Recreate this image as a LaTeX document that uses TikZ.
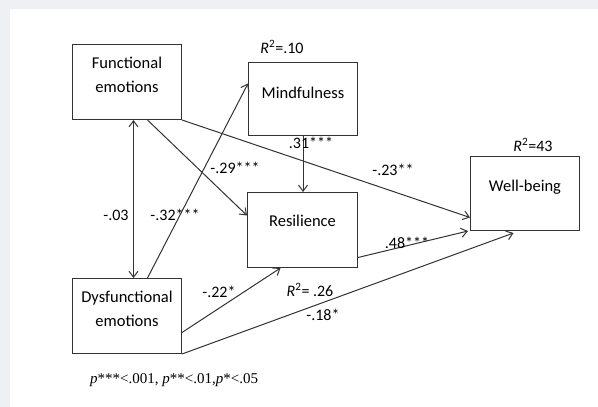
\documentclass[tikz,border=0pt]{standalone}
\usepackage{fontspec}
\setmainfont{Carlito}
\newfontfamily\notefont{Liberation Serif}
\usetikzlibrary{arrows.meta}
\definecolor{pagegrey}{RGB}{238,240,243}

\begin{document}
\begin{tikzpicture}[x=1pt,y=-1pt,
		box/.style={draw=black!80, line width=1pt, anchor=north west, minimum width=109pt, inner xsep=0pt, inner ysep=0pt, align=center, font=\fontsize{16.5}{24}\selectfont},
		arr/.style={draw=black!80, line width=1pt, -{Straight Barb[length=6pt,width=9pt]}},
		lbl/.style={font=\fontsize{16}{18}\selectfont, inner sep=0pt}]
		%%%%% START %%%%%
		\useasboundingbox (0,0) rectangle (598,407);
		\fill[pagegrey] (0,0) rectangle (598,407);
		\fill[white] (10,9) rectangle (598,407);
		
		\node[box, text height=48pt, text depth=27pt] (func) at (72,44) {Functional\\emotions};
		\node[box, text height=48pt, text depth=27pt] (dys) at (72,278) {Dysfunctional\\emotions};
		\node[box, text height=35.5pt, text depth=37.5pt] (mind) at (248,62) {Mindfulness};
		\node[box, minimum width=110pt, text height=33.5pt, text depth=41.5pt] (resil) at (247,192) {Resilience};
		\node[box, text height=34.5pt, text depth=39.5pt] (well) at (470,156) {Well-being};
		
		\draw[arr, {Straight Barb[length=6pt,width=9pt]}-{Straight Barb[length=6pt,width=9pt]}] ([xshift=6.5pt]func.south) -- ([xshift=6.5pt]dys.north);
		\draw[arr] ([xshift=20.5pt]dys.north) -- ([yshift=15.5pt]mind.west);
		\draw[arr] ([xshift=20.5pt]func.south) -- ([yshift=14.5pt]resil.west);
		\draw[arr] (func.south east) -- ([yshift=-24pt]well.west);
		\draw[arr] (mind.south) -- (mind.south |- resil.north);
		\draw[arr] ([yshift=-27.5pt]resil.east) -- ([xshift=-2pt]well.south west);
		\draw[arr] ([yshift=-16.5pt]dys.east) -- ([xshift=-22pt]resil.south);
		\draw[arr] (dys.south east) -- ([xshift=-11.5pt,yshift=-2pt]well.south);
		
		\node[lbl] (r2mind) at (282,47) {\textit{R}\textsuperscript{2}=.10};
		\node[lbl] (r2well) at (533,145) {\textit{R}\textsuperscript{2}=43};
		\node[lbl] (r2res) at (310,290) {\textit{R}\textsuperscript{2}= .26};
		
		\node[lbl] (b31) at (311,143) {.31***};
		\node[lbl] (b29) at (235,168) {-.29***};
		\node[lbl] (b23) at (393,170) {-.23**};
		\node[lbl] (b03) at (116,215) {-.03};
		\node[lbl] (b32) at (175,215) {-.32***};
		\node[lbl] (b22) at (219,292) {-.22*};
		\node[lbl] (b48) at (407,243) {.48***};
		\node[lbl] (b18) at (323,315) {-.18*};
		
		\node[anchor=west, inner sep=0pt, font=\notefont\fontsize{15}{17}\selectfont] (note) at (90,380) {\textit{p}***<.001, \textit{p}**<.01,\textit{p}*<.05};
		%%%%% END %%%%%
	\end{tikzpicture}
\end{document}
